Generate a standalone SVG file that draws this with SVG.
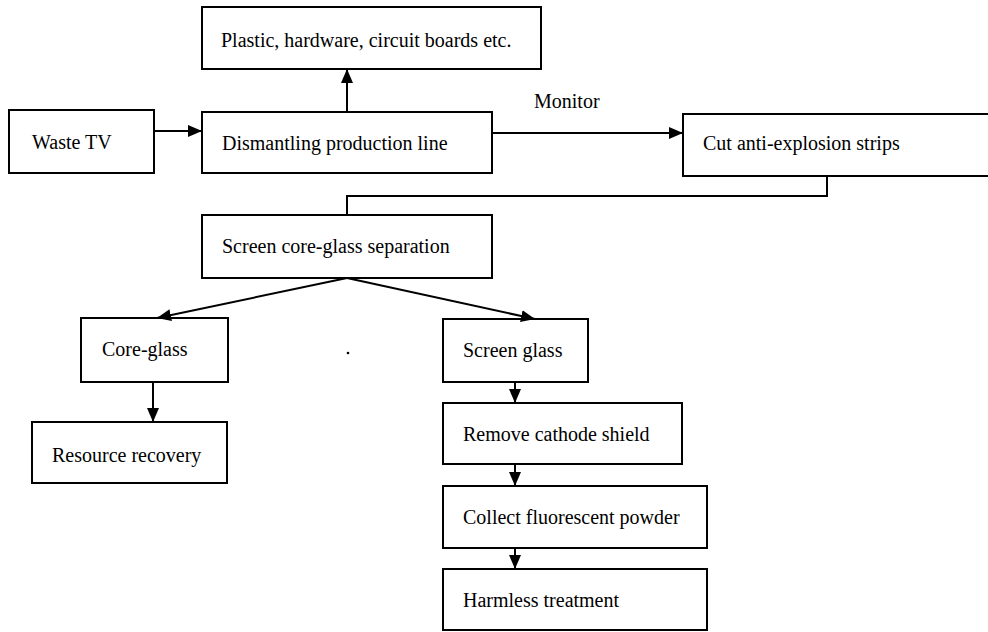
<svg xmlns="http://www.w3.org/2000/svg" width="988" height="632" viewBox="0 0 988 632">
  <defs>
    <marker id="arrow" viewBox="0 0 14 12" refX="14" refY="6" markerWidth="14" markerHeight="12" markerUnits="userSpaceOnUse" orient="auto">
      <path d="M0,0 L14,6 L0,12 Z" fill="#000"/>
    </marker>
  </defs>
  <style>
    .box { fill: #fff; stroke: #000; stroke-width: 2; }
    .label { font-family: "Times New Roman", "Liberation Serif", Tinos, "DejaVu Serif", serif; font-size: 20px; fill: #000; }
    .link { fill: none; stroke: #000; stroke-width: 2; }
    .link.arrow { marker-end: url(#arrow); }
  </style>
  <rect width="988" height="632" fill="#fff"/>

  <!-- process steps -->
  <g id="waste-tv">
    <rect class="box" x="9" y="110" width="145" height="63"/>
    <text class="label" x="32" y="149">Waste TV</text>
  </g>
  <g id="dismantling">
    <rect class="box" x="202" y="112" width="290" height="61"/>
    <text class="label" x="222" y="150">Dismantling production line</text>
  </g>
  <g id="plastic">
    <rect class="box" x="202" y="7" width="339" height="62"/>
    <text class="label" x="221" y="47">Plastic, hardware, circuit boards etc.</text>
  </g>
  <g id="monitor-label">
    <text class="label" x="534" y="108">Monitor</text>
  </g>
  <!-- this box runs past the right edge of the canvas -->
  <g id="cut-strips">
    <rect class="box" x="683" y="114" width="320" height="62"/>
    <text class="label" x="703" y="150">Cut anti-explosion strips</text>
  </g>
  <g id="separation">
    <rect class="box" x="202" y="215" width="290" height="63"/>
    <text class="label" x="222" y="253">Screen core-glass separation</text>
  </g>
  <g id="core-glass">
    <rect class="box" x="81" y="318" width="147" height="64"/>
    <text class="label" x="102" y="356">Core-glass</text>
  </g>
  <g id="resource-recovery">
    <rect class="box" x="32" y="422" width="195" height="61"/>
    <text class="label" x="52" y="462">Resource recovery</text>
  </g>
  <g id="screen-glass">
    <rect class="box" x="443" y="319" width="145" height="63"/>
    <text class="label" x="463" y="357">Screen glass</text>
  </g>
  <g id="cathode-shield">
    <rect class="box" x="443" y="403" width="239" height="61"/>
    <text class="label" x="463" y="441">Remove cathode shield</text>
  </g>
  <g id="fluorescent-powder">
    <rect class="box" x="443" y="486" width="264" height="62"/>
    <text class="label" x="463" y="524">Collect fluorescent powder</text>
  </g>
  <g id="harmless-treatment">
    <rect class="box" x="443" y="569" width="264" height="61"/>
    <text class="label" x="463" y="607">Harmless treatment</text>
  </g>

  <!-- stray dot -->
  <circle cx="348" cy="353" r="1.3" fill="#000"/>

  <!-- connectors -->
  <g id="connectors">
    <line class="link arrow" x1="154" y1="131" x2="202" y2="131"/>
    <line class="link arrow" x1="347" y1="112" x2="347" y2="69"/>
    <line class="link arrow" x1="492" y1="133" x2="683" y2="133"/>
    <path class="link" d="M827,176 V196 H347 V215"/>
    <line class="link arrow" x1="347" y1="278" x2="157" y2="318"/>
    <line class="link arrow" x1="347" y1="278" x2="535" y2="319"/>
    <line class="link arrow" x1="153" y1="382" x2="153" y2="422"/>
    <line class="link arrow" x1="515" y1="382" x2="515" y2="403"/>
    <line class="link arrow" x1="515" y1="464" x2="515" y2="486"/>
    <line class="link arrow" x1="515" y1="548" x2="515" y2="569"/>
  </g>
</svg>
